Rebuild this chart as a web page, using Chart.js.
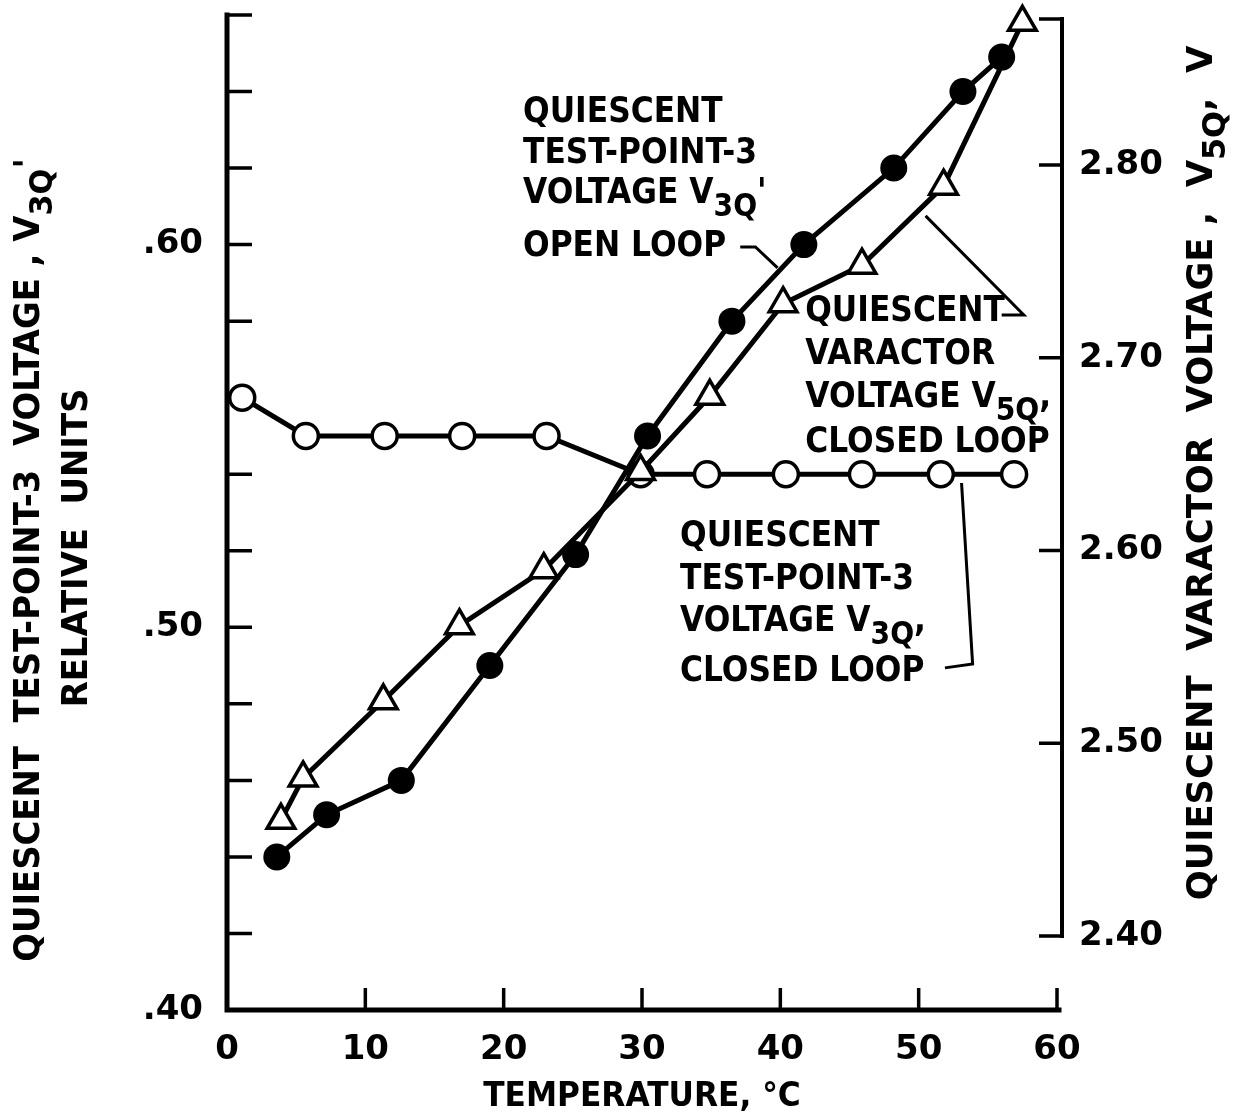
<!DOCTYPE html>
<html lang="en">
<head>
    <meta charset="UTF-8">
    <title>Quiescent voltages vs temperature</title>
    <style>
        body {
            margin: 0;
            background-color: #ffffff;
        }

        #wrap {
            width: 1239px;
            height: 1120px;
        }
    </style>
</head>
<body>
    <div id="wrap"><canvas id="chart"></canvas></div>

    <script src="https://cdn.jsdelivr.net/npm/chart.js"></script>
    <script>
        // temperature (°C) and readings for each curve
        const tempOpen = [3.6, 7.2, 12.6, 19.0, 25.2, 30.4, 36.5, 41.7, 48.2, 53.2, 56.0];
        const v3qOpen = [0.440, 0.451, 0.460, 0.490, 0.519, 0.550, 0.580, 0.600, 0.620, 0.640, 0.649];

        const tempClosed = [1.1, 5.7, 11.4, 17.0, 23.1, 29.9, 34.7, 40.4, 45.9, 51.6, 56.9];
        const v3qClosed = [0.560, 0.550, 0.550, 0.550, 0.550, 0.540, 0.540, 0.540, 0.540, 0.540, 0.540];

        const tempVaractor = [3.9, 5.5, 11.3, 16.8, 22.9, 29.9, 34.9, 40.2, 45.9, 51.8, 57.5];
        const v5qClosed = [2.460, 2.482, 2.522, 2.561, 2.590, 2.641, 2.680, 2.728, 2.748, 2.789, 2.874];

        // tick values
        const xTicks = [0, 10, 20, 30, 40, 50, 60];
        const leftTicks = [0.40, 0.42, 0.44, 0.46, 0.48, 0.50, 0.52, 0.54, 0.56, 0.58, 0.60, 0.62, 0.64, 0.66];
        const rightTicks = [2.40, 2.50, 2.60, 2.70, 2.80];

        const pts = (xs, ys) => xs.map((x, i) => ({ x: x, y: ys[i] }));

        const FONT = "'DejaVu Sans', sans-serif";

        // draw text with optional subscript parts, squeezed horizontally by sx
        function richText(ctx, parts, x, y, size, sx, align) {
            ctx.save();
            ctx.textBaseline = 'middle';
            ctx.textAlign = 'left';
            let total = 0;
            parts.forEach(p => {
                ctx.font = 'bold ' + (p[1] ? size * 0.9 : size) + 'px ' + FONT;
                total += ctx.measureText(p[0]).width;
            });
            total *= sx;
            let start = x;
            if (align === 'center') start = x - total / 2;
            ctx.translate(start, y);
            ctx.scale(sx, 1);
            let cx = 0;
            parts.forEach(p => {
                ctx.font = 'bold ' + (p[1] ? size * 0.9 : size) + 'px ' + FONT;
                ctx.fillText(p[0], cx, p[1] ? size * 0.38 : 0);
                cx += ctx.measureText(p[0]).width;
            });
            ctx.restore();
        }

        // annotation blocks, placed in data units (x: °C, y: left axis)
        const notes = [
            { x: 21.4, lines: [[['QUIESCENT']], [['TEST-POINT-3']], [['VOLTAGE V'], ['3Q', 1], ["'"]], [['OPEN LOOP']]],
              ys: [0.6344, 0.6237, 0.6132, 0.5996],
              leader: [[37.1, 0.5994], [38.2, 0.5994], [39.8, 0.5939]] },
            { x: 41.8, lines: [[['QUIESCENT']], [['VARACTOR']], [['VOLTAGE V'], ['5Q', 1], [',']], [['CLOSED LOOP']]],
              ys: [0.5824, 0.5712, 0.5599, 0.5482],
              leader: [[56.0, 0.5816], [57.6, 0.5816], [50.5, 0.6075]] },
            { x: 32.75, lines: [[['QUIESCENT']], [['TEST-POINT-3']], [['VOLTAGE V'], ['3Q', 1], [',']], [['CLOSED LOOP']]],
              ys: [0.5236, 0.5124, 0.5014, 0.4883],
              leader: [[51.9, 0.4894], [53.9, 0.4904], [53.1, 0.5377]] }
        ];

        const framePlugin = {
            id: 'frame',
            beforeDatasetsDraw(chart) {
                const ctx = chart.ctx;
                const a = chart.chartArea;
                const sx = chart.scales.x, sy = chart.scales.y, sr = chart.scales.y2;
                const rx = a.right + 5;
                ctx.save();
                ctx.strokeStyle = '#000';
                ctx.lineCap = 'square';
                ctx.lineWidth = 5;
                ctx.beginPath();
                ctx.moveTo(a.left, a.top);
                ctx.lineTo(a.left, a.bottom);
                ctx.lineTo(a.right + 2, a.bottom);
                ctx.stroke();
                ctx.lineWidth = 4;
                ctx.beginPath();
                ctx.moveTo(rx, sr.getPixelForValue(rightTicks[0]));
                ctx.lineTo(rx, a.top + 4);
                ctx.stroke();
                ctx.lineWidth = 3.5;
                ctx.lineCap = 'butt';
                ctx.beginPath();
                leftTicks.slice(1).forEach(v => {
                    const y = sy.getPixelForValue(v);
                    ctx.moveTo(a.left, y);
                    ctx.lineTo(a.left + 25, y);
                });
                xTicks.slice(1).forEach(v => {
                    const x = sx.getPixelForValue(v);
                    ctx.moveTo(x, a.bottom);
                    ctx.lineTo(x, a.bottom - 22);
                });
                rightTicks.forEach(v => {
                    const y = sr.getPixelForValue(v);
                    ctx.moveTo(rx, y);
                    ctx.lineTo(rx - 23, y);
                });
                ctx.moveTo(rx, a.top + 4);
                ctx.lineTo(rx - 23, a.top + 4);
                ctx.stroke();
                ctx.restore();
            },
            afterDatasetsDraw(chart) {
                const ctx = chart.ctx;
                const sx = chart.scales.x, sy = chart.scales.y;
                ctx.save();
                ctx.fillStyle = '#000';
                notes.forEach(n => {
                    const x = sx.getPixelForValue(n.x);
                    n.lines.forEach((ln, i) => {
                        richText(ctx, ln, x, sy.getPixelForValue(n.ys[i]), 36, 0.87, 'left');
                    });
                    ctx.lineWidth = 3;
                    ctx.strokeStyle = '#000';
                    ctx.beginPath();
                    n.leader.forEach((p, i) => {
                        const px = sx.getPixelForValue(p[0]), py = sy.getPixelForValue(p[1]);
                        if (i === 0) ctx.moveTo(px, py); else ctx.lineTo(px, py);
                    });
                    ctx.stroke();
                });

                // axis titles
                ctx.save();
                ctx.translate(30, 560);
                ctx.rotate(-Math.PI / 2);
                richText(ctx, [['QUIESCENT  TEST-POINT-3  VOLTAGE , V'], ['3Q', 1], ["'"]], 0, 0, 36, 0.94, 'center');
                ctx.restore();
                ctx.save();
                ctx.translate(78, 548);
                ctx.rotate(-Math.PI / 2);
                richText(ctx, [['RELATIVE  UNITS']], 0, 0, 36, 0.94, 'center');
                ctx.restore();
                ctx.save();
                ctx.translate(1203, 473);
                ctx.rotate(-Math.PI / 2);
                richText(ctx, [['QUIESCENT  VARACTOR  VOLTAGE ,  V'], ['5Q', 1], [",  V"]], 0, 0, 36, 0.98, 'center');
                ctx.restore();
                richText(ctx, [['TEMPERATURE, °C']], 642, 1097, 34, 0.92, 'center');
                ctx.restore();
            }
        };

        // keep the plot frame where the layout puts it, no label overhang padding
        const noPad = s => { s.paddingTop = 0; s.paddingBottom = 0; s.paddingLeft = 0; s.paddingRight = 0; };

        const chart = new Chart(document.getElementById('chart'), {
            type: 'line',
            data: {
                datasets: [
                    {
                        label: 'V3Q open loop',
                        data: pts(tempOpen, v3qOpen),
                        yAxisID: 'y',
                        borderColor: '#000',
                        borderWidth: 5,
                        pointStyle: 'circle',
                        pointRadius: 13.5,
                        pointBackgroundColor: '#000',
                        pointBorderColor: '#000',
                        pointBorderWidth: 0,
                        clip: false
                    },
                    {
                        label: 'V5Q closed loop',
                        data: pts(tempVaractor, v5qClosed),
                        yAxisID: 'y2',
                        borderColor: '#000',
                        borderWidth: 5,
                        pointStyle: 'triangle',
                        pointRadius: 16,
                        pointBackgroundColor: '#fff',
                        pointBorderColor: '#000',
                        pointBorderWidth: 3.5,
                        clip: false
                    },
                    {
                        label: 'V3Q closed loop',
                        data: pts(tempClosed, v3qClosed),
                        yAxisID: 'y',
                        borderColor: '#000',
                        borderWidth: 5,
                        pointStyle: 'circle',
                        pointRadius: 12.5,
                        pointBackgroundColor: '#fff',
                        pointBorderColor: '#000',
                        pointBorderWidth: 3.5,
                        clip: false
                    }
                ]
            },
            options: {
                responsive: true,
                maintainAspectRatio: false,
                animation: false,
                layout: { padding: { top: 15 }, autoPadding: false },
                plugins: {
                    legend: { display: false },
                    tooltip: { enabled: false }
                },
                scales: {
                    x: {
                        type: 'linear',
                        min: 0,
                        max: 60,
                        afterBuildTicks: s => { s.ticks = xTicks.map(v => ({ value: v })); },
                        afterFit: s => { s.height = 110; noPad(s); },
                        grid: { display: false },
                        border: { display: false },
                        ticks: {
                            padding: 12,
                            color: '#000',
                            font: { family: FONT, size: 34, weight: 'bold' }
                        }
                    },
                    y: {
                        position: 'left',
                        min: 0.40,
                        max: 0.66,
                        afterBuildTicks: s => { s.ticks = leftTicks.map(v => ({ value: v })); },
                        afterFit: s => { s.width = 227; noPad(s); },
                        grid: { display: false },
                        border: { display: false },
                        ticks: {
                            padding: 16,
                            color: '#000',
                            font: { family: FONT, size: 34, weight: 'bold' },
                            callback: v => {
                                const r = Math.round(v * 100);
                                return r % 10 === 0 ? '.' + r : '';
                            }
                        }
                    },
                    y2: {
                        position: 'right',
                        min: 2.3616,
                        max: 2.8778,
                        afterBuildTicks: s => { s.ticks = rightTicks.map(v => ({ value: v })); },
                        afterFit: s => { s.width = 182; noPad(s); },
                        grid: { display: false },
                        border: { display: false },
                        ticks: {
                            padding: 14,
                            color: '#000',
                            font: { family: FONT, size: 34, weight: 'bold' },
                            callback: v => v.toFixed(2)
                        }
                    }
                }
            },
            plugins: [framePlugin]
        });
    </script>
</body>
</html>
